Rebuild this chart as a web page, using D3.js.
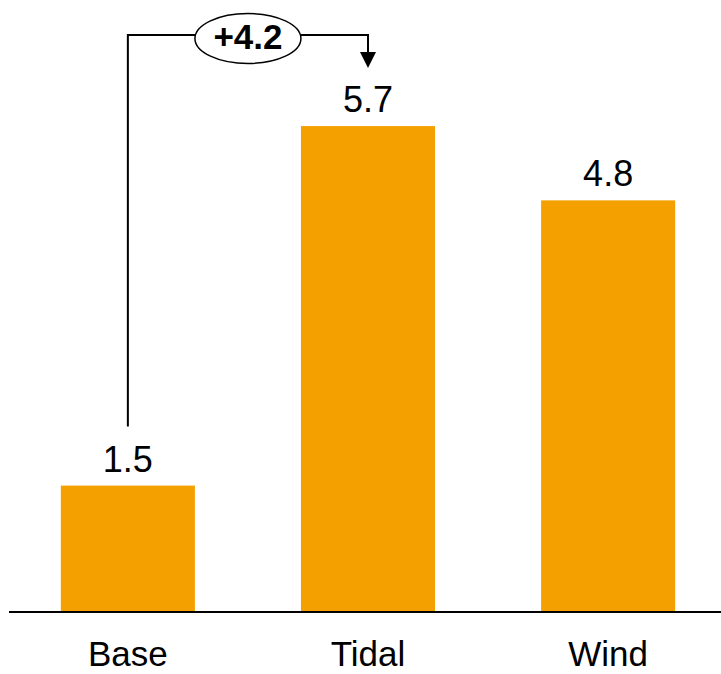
<!DOCTYPE html>
<html>
<head>
<meta charset="utf-8">
<script src="https://cdn.jsdelivr.net/npm/d3@7"></script>
<style>
html,body{margin:0;padding:0;background:#fff;}
svg{display:block;}
text{font-family:"Liberation Sans",Arial,sans-serif;}
</style>
</head>
<body>
<svg id="chart" width="721" height="674"></svg>
<script>
const categories = ["Base", "Tidal", "Wind"];
const values = [1.48, 5.69, 4.82];
const deltaLabel = "+4.2";
const deltaFrom = 0;
const deltaTo = 1;

const W = 721, H = 674;
const baseY = 612;
const svg = d3.select("#chart");

const x = d3.scaleBand().domain(categories).range([8, 728]).paddingInner(0.4417).paddingOuter(0.22);
const y = d3.scaleLinear().domain([0, 6]).range([baseY, baseY - 6 * 85.4]);

const color = "#F4A000";

svg.selectAll("rect.bar").data(values).join("rect")
  .attr("class", "bar")
  .attr("x", (d, i) => x(categories[i]))
  .attr("width", x.bandwidth())
  .attr("y", d => y(d))
  .attr("height", d => y(0) - y(d))
  .attr("fill", color);

// axis baseline
const xAxis = d3.axisBottom(x).tickSize(0).tickPadding(0);
const gAxis = svg.append("g").attr("transform", `translate(0,${baseY})`).call(xAxis);
gAxis.select(".domain").remove();
gAxis.append("line").attr("x1", 9).attr("x2", 721).attr("y1", 0).attr("y2", 0)
  .attr("stroke", "#000").attr("stroke-width", 2);
gAxis.selectAll(".tick text")
  .attr("y", 54).attr("dy", 0)
  .attr("font-size", 35)
  .attr("fill", "#000")
  .attr("font-family", "Liberation Sans, Arial, sans-serif");

// value labels
svg.selectAll("text.val").data(values).join("text")
  .attr("class", "val")
  .attr("x", (d, i) => x(categories[i]) + x.bandwidth() / 2)
  .attr("y", d => y(d) - 14)
  .attr("text-anchor", "middle")
  .attr("font-size", 36)
  .attr("fill", "#000")
  .text(d => d3.format(".1f")(d));

// delta bracket
const cx0 = x(categories[deltaFrom]) + x.bandwidth() / 2;
const cx1 = x(categories[deltaTo]) + x.bandwidth() / 2;
const topY = 35;
const startY = y(values[deltaFrom]) - 59;
svg.append("path")
  .attr("d", `M${cx0},${startY} V${topY} H${cx1} V${53}`)
  .attr("fill", "none").attr("stroke", "#000").attr("stroke-width", 2);
svg.append("path")
  .attr("d", `M${cx1 - 8},${52} L${cx1 + 8},${52} L${cx1},${68} Z`)
  .attr("fill", "#000");
const ex = (cx0 + cx1) / 2;
svg.append("ellipse")
  .attr("cx", ex).attr("cy", 38.5).attr("rx", 53).attr("ry", 25)
  .attr("fill", "#fff").attr("stroke", "#000").attr("stroke-width", 1.5);
svg.append("text")
  .attr("x", ex).attr("y", 49)
  .attr("text-anchor", "middle")
  .attr("font-size", 35).attr("font-weight", "bold")
  .attr("fill", "#000")
  .text(deltaLabel);
</script>
</body>
</html>
